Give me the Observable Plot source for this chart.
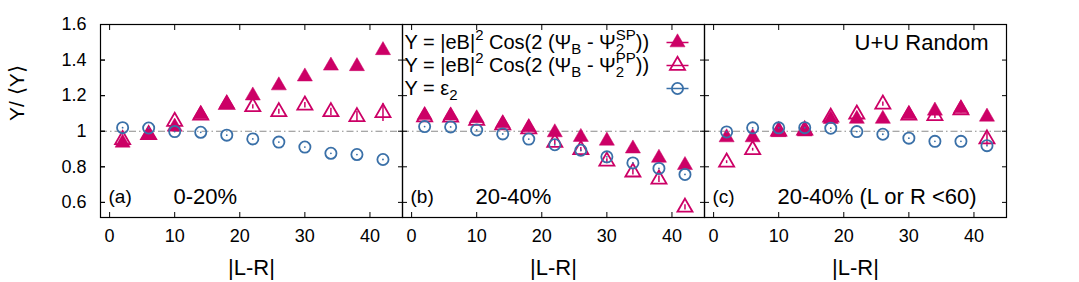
<!DOCTYPE html>
<html><head><meta charset="utf-8">
<script src="https://cdn.jsdelivr.net/npm/d3@7"></script>
<script src="https://cdn.jsdelivr.net/npm/@observablehq/plot@0.6"></script>
<style>
body{margin:0;background:#fff}
svg{font-family:"Liberation Sans",Arial,Helvetica,sans-serif}
</style>
</head><body><div id="chart"></div>
<script>
// ---- data ----
const xValues = [2, 6, 10, 14, 18, 22, 26, 30, 34, 38, 42];
const panels = ["a", "b", "c"];
const panelTags = ["(a)", "(b)", "(c)"];
const panelTitles = ["0-20%", "20-40%", "20-40% (L or R <60)"];
const xTicks = [0, 10, 20, 30, 40];
const yTicks = [0.6, 0.8, 1, 1.2, 1.4, 1.6];

const spA  = [0.935, 0.980, 1.025, 1.095, 1.155, 1.200, 1.257, 1.307, 1.368, 1.365, 1.455];
const ppA  = [0.952, 0.980, 1.055, 1.090, 1.150, 1.137, 1.109, 1.146, 1.109, 1.081, 1.104];
const epsA = [1.020, 1.018, 0.998, 0.994, 0.978, 0.957, 0.939, 0.911, 0.876, 0.869, 0.841];
const spAerr = [0.006, 0.006, 0.006, 0.006, 0.007, 0.008, 0.008, 0.009, 0.010, 0.012, 0.020];
const ppAerr = [0.008, 0.008, 0.009, 0.010, 0.011, 0.012, 0.014, 0.016, 0.020, 0.030, 0.050];

const spB  = [1.090, 1.088, 1.072, 1.044, 1.022, 0.993, 0.967, 0.946, 0.902, 0.850, 0.809];
const ppB  = [1.080, 1.078, 1.060, 1.035, 1.012, 0.937, 0.896, 0.831, 0.770, 0.730, 0.572];
const epsB = [1.026, 1.024, 1.007, 0.985, 0.956, 0.924, 0.893, 0.856, 0.822, 0.791, 0.757];
const spBerr = [0.006, 0.006, 0.006, 0.006, 0.006, 0.007, 0.007, 0.008, 0.009, 0.010, 0.012];
const ppBerr = [0.008, 0.008, 0.008, 0.009, 0.010, 0.011, 0.012, 0.014, 0.016, 0.018, 0.015];

const spC  = [0.965, 0.965, 0.994, 0.998, 1.068, 1.069, 1.069, 1.094, 1.115, 1.128, 1.081];
const ppC  = [0.826, 0.896, 1.000, 1.005, 1.078, 1.096, 1.152, 1.090, 1.087, 1.120, 0.956];
const epsC = [0.996, 1.019, 1.019, 1.020, 1.017, 0.998, 0.983, 0.961, 0.943, 0.943, 0.919];
const spCerr = [0.006, 0.006, 0.006, 0.006, 0.007, 0.007, 0.008, 0.008, 0.009, 0.010, 0.015];
const ppCerr = [0.008, 0.008, 0.009, 0.009, 0.010, 0.011, 0.012, 0.014, 0.015, 0.017, 0.035];

const legendLabels = [
  "Y = |eB|^{2} Cos(2 (Ψ_{B} - Ψ_{2}^{SP}))",
  "Y = |eB|^{2} Cos(2 (Ψ_{B} - Ψ_{2}^{PP}))",
  "Y = ε_{2}"
];

const MAG = "#cc0066", BLUE = "#3a70a8";

// ---- build table ----
function rows(panel, series, ys, errs) {
  return xValues.map((x, i) => ({panel, series, x, y: ys[i], err: errs ? errs[i] : 0}));
}
const sp  = [...rows("a","SP",spA,spAerr), ...rows("b","SP",spB,spBerr), ...rows("c","SP",spC,spCerr)];
const pp  = [...rows("a","PP",ppA,ppAerr), ...rows("b","PP",ppB,ppBerr), ...rows("c","PP",ppC,ppCerr)];
const eps = [...rows("a","eps",epsA), ...rows("b","eps",epsB), ...rows("c","eps",epsC)];

const lineSymbol = {draw(ctx) { ctx.moveTo(-11, 0); ctx.lineTo(11, 0); }};
const fmt = d => String(+d.toFixed(1));
const legendDy = [18, 41, 64];

const legendMarks = [];
[["triangle", MAG, true], ["triangle", MAG, false], ["circle", BLUE, false]].forEach(([sym, col, filled], i) => {
  legendMarks.push(Plot.text(["b"], {fx: d => d, text: () => legendLabels[i], frameAnchor: "top-left", lineAnchor: "middle", dx: 2, dy: legendDy[i], textAnchor: "start", fontSize: 20, fill: "#000"}));
  legendMarks.push(Plot.dot(["b"], {fx: d => d, frameAnchor: "top-left", dx: 275, dy: legendDy[i], symbol: lineSymbol, stroke: col, strokeWidth: 1.5}));
  legendMarks.push(Plot.dot(["b"], {fx: d => d, frameAnchor: "top-left", dx: 275, dy: legendDy[i], symbol: sym, r: 5.6,
    fill: filled ? col : "none", stroke: col, strokeWidth: filled ? 0.5 : 1.8}));
});

const chart = Plot.plot({
  width: 1079,
  height: 282,
  marginLeft: 99,
  marginRight: 73,
  marginTop: 24,
  marginBottom: 65,
  style: {fontFamily: '"Liberation Sans", Arial, sans-serif', background: "#fff"},
  fx: {domain: panels, padding: 0, axis: null},
  x: {domain: [-1.4, 45]},
  y: {domain: [0.515, 1.6]},
  marks: [
    Plot.ruleY([1], {stroke: "#8a8a8a", strokeWidth: 1.2, strokeDasharray: "7,3,1.5,3"}),
    Plot.axisY({anchor: "left", ticks: yTicks, tickFormat: fmt, tickSize: -5, tickPadding: 19, fontSize: 18, label: null, color: "#000"}),
    Plot.axisY({anchor: "left", ticks: yTicks, tickFormat: () => "", tickSize: -5, label: null, facetAnchor: null}),
    Plot.axisY({anchor: "right", ticks: yTicks, tickFormat: () => "", tickSize: -5, label: null, facetAnchor: null}),
    Plot.axisX({anchor: "bottom", ticks: xTicks, tickSize: -5, tickPadding: 17, fontSize: 18, label: null, color: "#000"}),
    Plot.axisX({anchor: "top", ticks: xTicks, tickFormat: () => "", tickSize: -5, label: null}),
    Plot.frame({stroke: "#000", strokeWidth: 1.2}),
    Plot.ruleX(sp, {fx: "panel", x: "x", y1: d => d.y - d.err, y2: d => d.y + d.err, stroke: MAG, strokeWidth: 1.5}),
    Plot.ruleX(pp, {fx: "panel", x: "x", y1: d => d.y - d.err, y2: d => d.y + d.err, stroke: MAG, strokeWidth: 1.5}),
    Plot.dot(sp, {fx: "panel", x: "x", y: "y", symbol: "triangle", r: 5.6, fill: MAG, stroke: MAG, strokeWidth: 0.5}),
    Plot.dot(pp, {fx: "panel", x: "x", y: "y", symbol: "triangle", r: 5.6, fill: "none", stroke: MAG, strokeWidth: 1.8}),
    Plot.dot(eps, {fx: "panel", x: "x", y: "y", symbol: "circle", r: 5.6, fill: "none", stroke: BLUE, strokeWidth: 1.8}),
    Plot.dot(eps, {fx: "panel", x: "x", y: "y", r: 0.9, fill: BLUE}),
    Plot.text(panels, {fx: d => d, text: (d, i) => panelTags[i], frameAnchor: "bottom-left", lineAnchor: "middle", dx: 8, dy: -21, textAnchor: "start", fontSize: 19, fill: "#000"}),
    Plot.text(panels, {fx: d => d, text: (d, i) => panelTitles[i], frameAnchor: "bottom-left", lineAnchor: "middle", dx: 73, dy: -21, textAnchor: "start", fontSize: 22, fill: "#000"}),
    Plot.text(panels, {fx: d => d, text: () => "|L-R|", frameAnchor: "bottom", lineAnchor: "middle", dy: 50, fontSize: 22, fill: "#000"}),
    Plot.text(["c"], {fx: d => d, text: () => "U+U Random", frameAnchor: "top-right", lineAnchor: "middle", dx: -18, dy: 18, textAnchor: "end", fontSize: 22, fill: "#000"}),
    Plot.text(["a"], {fx: d => d, text: () => "Y/ ⟨Y⟩", frameAnchor: "left", lineAnchor: "middle", dx: -83, rotate: -90, fontSize: 21, fill: "#000"}),
    ...legendMarks
  ]
});
document.getElementById("chart").appendChild(chart);

// rich text (sub/superscripts) for legend entries
function richify(el) {
  const src = el.textContent;
  const re = /([_^])\{([^}]*)\}/g;
  const parts = [];
  let last = 0, m;
  while ((m = re.exec(src))) {
    if (m.index > last) parts.push({t: "n", s: src.slice(last, m.index)});
    parts.push({t: m[1], s: m[2]});
    last = re.lastIndex;
  }
  if (last < src.length) parts.push({t: "n", s: src.slice(last)});
  el.textContent = "";
  let cur = 0, prev = null, prevNode = null;
  for (const p of parts) {
    const target = p.t === "^" ? -9 : p.t === "_" ? 5 : 0;
    const ts = document.createElementNS("http://www.w3.org/2000/svg", "tspan");
    ts.textContent = p.s;
    ts.setAttribute("dy", target - cur);
    if (p.t !== "n") ts.setAttribute("font-size", 15);
    el.appendChild(ts);
    if (p.t === "^" && prev && prev.t === "_" && prevNode) {
      ts.setAttribute("dx", -prevNode.getComputedTextLength());
    }
    cur = target; prev = p; prevNode = ts;
  }
}
chart.querySelectorAll("text").forEach(el => {
  if (/[_^]\{/.test(el.textContent)) richify(el);
});
</script>
</body></html>
